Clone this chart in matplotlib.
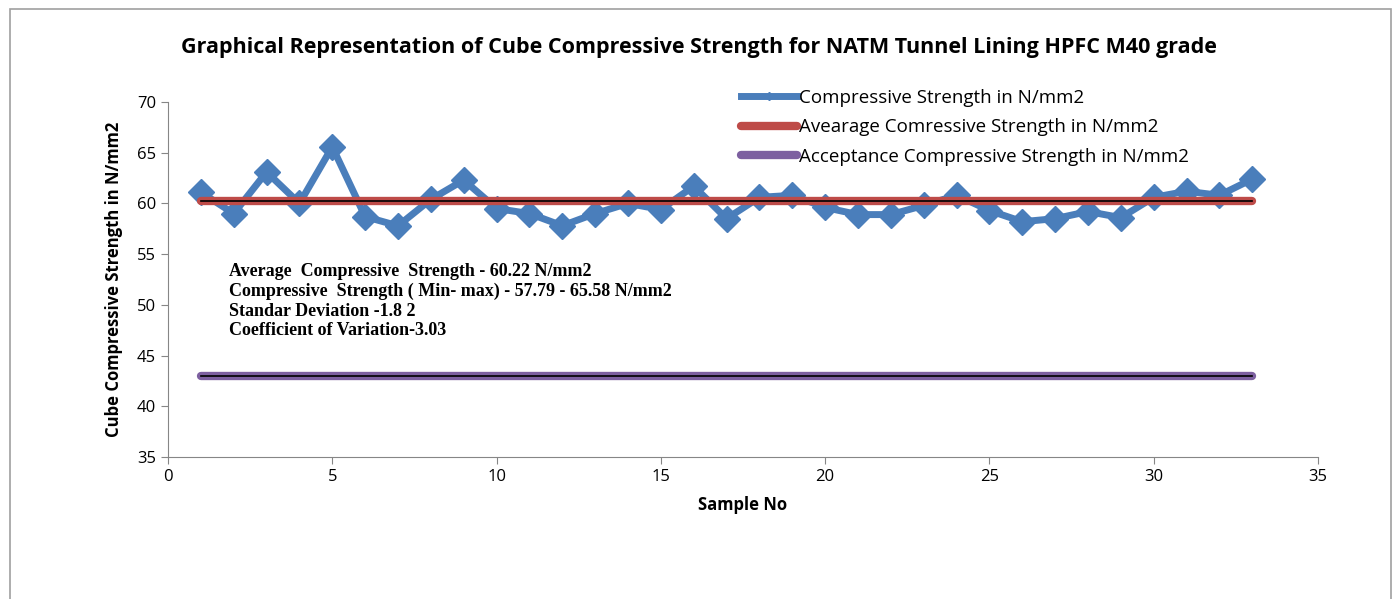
import matplotlib
matplotlib.use("Agg")
import matplotlib.pyplot as plt
from matplotlib.patches import Rectangle

samples = list(range(1, 34))
strength = [61.1, 59.0, 63.1, 60.0, 65.58, 58.7, 57.79, 60.4, 62.3, 59.5,
            59.0, 57.8, 59.0, 60.0, 59.4, 61.7, 58.5, 60.6, 60.8, 59.6,
            58.9, 58.9, 59.8, 60.8, 59.3, 58.2, 58.5, 59.2, 58.6, 60.6,
            61.2, 60.8, 62.4]
average = [60.22] * 33
acceptance = [43.0] * 33

title = "Graphical Representation of Cube Compressive Strength for NATM Tunnel Lining HPFC M40 grade"
legend_labels = ["Compressive Strength in N/mm2",
                 "Avearage Comressive Strength in N/mm2",
                 "Acceptance Compressive Strength in N/mm2"]
stats_lines = ["Average  Compressive  Strength - 60.22 N/mm2",
               "Compressive  Strength ( Min- max) - 57.79 - 65.58 N/mm2",
               "Standar Deviation -1.8 2",
               "Coefficient of Variation-3.03"]

fig = plt.figure(figsize=(13.97, 5.99), dpi=100)
fig.patches.append(Rectangle((10/1397, -0.1), 1381/1397, 1.1 - 9/599,
                             transform=fig.transFigure, fill=False,
                             edgecolor="#a0a0a0", linewidth=1.2))
ax = fig.add_axes([168/1397, 1 - 457/599, (1318-168)/1397, (457-102)/599])

blue = "#4a7ebb"
red = "#be4b48"
purple = "#7d60a0"

l1, = ax.plot(samples, strength, color=blue, linewidth=5, marker="D",
              markersize=13, markeredgecolor=blue, solid_joinstyle="round",
              label=legend_labels[0], zorder=2)
l2, = ax.plot(samples, average, color=red, linewidth=6, solid_capstyle="round",
              label=legend_labels[1], zorder=3)
ax.plot(samples, average, color="black", linewidth=1.2, zorder=4)
l3, = ax.plot(samples, acceptance, color=purple, linewidth=6, solid_capstyle="round",
              label=legend_labels[2], zorder=3)
ax.plot(samples, acceptance, color="black", linewidth=1.2, zorder=4)

ax.set_xlim(0, 35)
ax.set_ylim(35, 70)
ax.set_xticks(range(0, 36, 5))
ax.set_yticks(range(35, 71, 5))
for s in ["top", "right"]:
    ax.spines[s].set_visible(False)
for s in ["left", "bottom"]:
    ax.spines[s].set_color("#868686")
ax.tick_params(axis="both", colors="#868686", labelcolor="black",
               labelsize=12, length=5)
for lbl in ax.get_xticklabels() + ax.get_yticklabels():
    lbl.set_fontfamily("Open Sans")

ax.set_xlabel("Sample No", fontsize=12, fontweight="bold", family="Open Sans",
              labelpad=8)
ax.set_ylabel("Cube Compressive Strength in N/mm2", fontsize=12, fontweight="bold",
              family="Open Sans", labelpad=10)

fig.text(0.5, 1 - 47/599, title, ha="center", va="center", fontsize=15.5,
         fontweight="bold", family="Open Sans")

leg = ax.legend(handles=[l1, l2, l3], loc="upper left",
                bbox_to_anchor=((724-168)/1150, 1.085), frameon=False,
                handlelength=3.0, handletextpad=0.1,
                labelspacing=0.62, prop={"family": "Open Sans", "size": 13.5})
for h in leg.legend_handles:
    h.set_markersize(4)

for i, line in enumerate(stats_lines):
    fig.text(229/1397, 1 - (272 + i*19.5)/599, line, ha="left", va="center",
             fontsize=13, fontweight="bold", family="Liberation Serif")

fig.savefig("out.png", dpi=100)
